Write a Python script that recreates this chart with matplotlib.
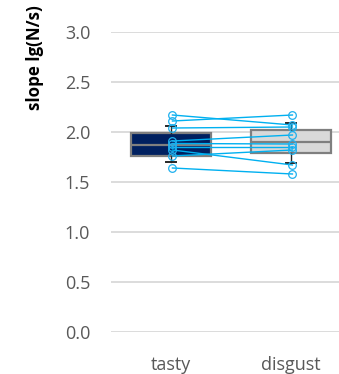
import matplotlib.pyplot as plt

# conditions and per-subject slopes (lg N/s)
conditions = ["tasty", "disgust"]
tasty = [2.17, 2.11, 2.04, 1.91, 1.885, 1.85, 1.82, 1.76, 1.64]
disgust = [2.07, 2.17, 2.05, 1.97, 1.88, 1.85, 1.67, 1.82, 1.58]

# box summary per condition
q1 = [1.76, 1.787]
median = [1.873, 1.90]
q3 = [1.99, 2.017]
whislo = [1.70, 1.687]
whishi = [2.06, 2.087]

yticks = [0.0, 0.5, 1.0, 1.5, 2.0, 2.5, 3.0]

plt.rcParams['font.family'] = ['Open Sans', 'DejaVu Sans']

fig = plt.figure(figsize=(3.39, 3.74), dpi=100)
ax = fig.add_axes([111 / 339, 1 - 332 / 374, 228 / 339, 300 / 374])

stats = []
for i, name in enumerate(conditions):
    stats.append(dict(label=name, q1=q1[i], med=median[i], q3=q3[i],
                      whislo=whislo[i], whishi=whishi[i], fliers=[]))

bp = ax.bxp(stats, positions=[0, 1], widths=0.67, patch_artist=True,
            showfliers=False, capwidths=0.09,
            boxprops=dict(edgecolor="#7f7f7f", linewidth=1.6),
            medianprops=dict(color="#7f7f7f", linewidth=1.6),
            whiskerprops=dict(color="#262626", linewidth=1.0),
            capprops=dict(color="#262626", linewidth=1.4))
for patch, fc in zip(bp["boxes"], ["#002060", "#d9d9d9"]):
    patch.set_facecolor(fc)
    patch.set_zorder(2)

# paired lines for every subject
off = 0.012
for a, b in zip(tasty, disgust):
    ax.plot([0 + off, 1 + off], [a, b], color="#00b0f0", linewidth=1.0,
            marker="o", markersize=5.5, markerfacecolor="none",
            markeredgecolor="#1fb0ee", markeredgewidth=0.9, zorder=4)

ax.set_xlim(-0.5, 1.4)
ax.set_ylim(0, 3.0)
ax.set_yticks(yticks)
ax.set_yticklabels([f"{v:.1f}" for v in yticks])
ax.set_xticks([0, 1])
ax.set_xticklabels(conditions)
ax.tick_params(length=0, labelsize=13, labelcolor="#595959")
ax.tick_params(axis="y", pad=15)
ax.tick_params(axis="x", pad=17)

ax.grid(axis="y", color="#d9d9d9", linewidth=1.3)
ax.set_axisbelow(True)
for s in ax.spines.values():
    s.set_visible(False)

fig.text(35 / 339, 1 - 5 / 374, "slope lg(N/s)", rotation=90, ha="center",
         va="top", fontsize=12.2, fontweight="bold", color="black")

fig.savefig("out.png", dpi=100)
